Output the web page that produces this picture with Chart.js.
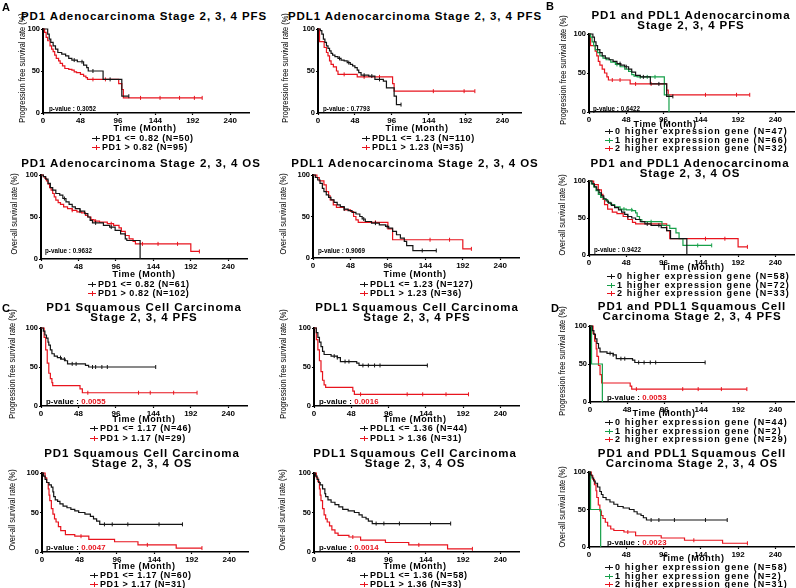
<!DOCTYPE html>
<html>
<head>
<meta charset="utf-8">
<script src="https://cdn.jsdelivr.net/npm/chart.js@4.4.1/dist/chart.umd.min.js"></script>
<style>
  body { margin: 0; background: #fff; }
  #fig { position: relative; width: 796px; height: 588px; overflow: hidden;
         font-family: "Liberation Sans", Arial, sans-serif; font-weight: bold; color: #000; }
  #fig canvas { position: absolute; }
  .txt { position: absolute; white-space: pre; transform: translate(-50%, -50%); text-align: center; }
  .ttl { font-size: 11.5px; letter-spacing: 0.9px; line-height: 10px; }
  .xt { font-size: 9px; letter-spacing: 0.55px; }
  .yt { position: absolute; white-space: nowrap; font-size: 9px; font-weight: normal;
        transform: translate(-50%, -50%) rotate(-90deg) scaleX(0.82); }
  .lbl { position: absolute; font-size: 11px; transform: translateY(-50%); }
  .leg { position: absolute; white-space: nowrap; font-size: 9px; transform: translateY(-50%); line-height: 10px; }
  .mk { display: inline-block; width: 8px; height: 1.2px; background: currentColor; position: relative;
        vertical-align: middle; margin-right: 2px; }
  .mk::after { content: ''; position: absolute; left: 3.5px; top: -2px; width: 1px; height: 5px; background: currentColor; }
  .pv { position: absolute; white-space: nowrap; transform: translateY(-50%); }
</style>
</head>
<body>
<div id="fig"></div>
<script>
// axis ticks
const xTicks = [0, 48, 96, 144, 192, 240];
const yTicks = [0, 50, 100];

// Kaplan-Meier curves: [month, survival %]
// Adenocarcinoma PFS, PD1
const adPfsPd1Low = [[0,100],[6,94],[8,88],[10,84],[13,80],[16,76],[19,72],[24,70],[29,68],[33,65],[37,63],[44,61],[52,57],[56,54],[58,50],[77,40],[101,20],[110,20]];
const adPfsPd1High = [[0,100],[2,96],[4,90],[6,86],[9,80],[11,76],[13,73],[15,69],[17,65],[20,62],[22,59],[25,56],[28,53],[33,52],[37,51],[40,49],[43,48],[48,46],[52,44],[55,42],[57,40],[97,35],[101,28],[103,18],[204,18]];
// Adenocarcinoma PFS, PDL1
const adPfsPdl1Low = [[0,100],[3,98],[5,94],[7,88],[9,84],[11,80],[13,77],[15,74],[17,71],[19,69],[22,67],[26,65],[30,63],[34,62],[38,60],[42,58],[45,56],[48,54],[51,51],[53,48],[56,45],[66,44],[74,40],[85,38],[89,30],[99,20],[102,10],[108,10]];
const adPfsPdl1High = [[0,100],[2,85],[8,78],[11,72],[13,68],[15,62],[17,58],[20,55],[24,50],[26,46],[51,43],[97,35],[99,26],[204,26]];
// Adenocarcinoma PFS, number of higher expression genes
const adPfsGene0 = [[0,100],[5,96],[7,90],[9,85],[11,80],[14,76],[17,72],[21,69],[26,67],[31,65],[36,62],[41,60],[46,58],[51,55],[55,51],[60,47],[66,45],[79,36],[100,20],[108,20]];
const adPfsGene1 = [[0,100],[2,96],[4,90],[6,85],[8,80],[11,76],[14,72],[18,69],[22,67],[28,64],[34,61],[40,58],[46,55],[51,52],[55,48],[58,46],[62,45],[97,22],[103,0]];
const adPfsGene2 = [[0,100],[2,85],[8,78],[10,72],[12,65],[14,60],[17,55],[20,50],[23,45],[25,41],[53,36],[100,28],[102,22],[207,22]];
// Adenocarcinoma OS, PD1
const adOsPd1Low = [[0,100],[3,98],[6,95],[9,90],[12,85],[15,82],[19,78],[24,76],[28,72],[32,68],[36,65],[40,62],[44,60],[50,57],[56,54],[60,50],[63,46],[66,43],[80,40],[88,38],[95,34],[102,30],[108,24],[110,22],[127,0]];
const adOsPd1High = [[0,100],[3,98],[5,96],[7,93],[9,89],[11,85],[13,82],[15,78],[17,74],[19,70],[22,67],[25,65],[29,62],[34,60],[40,58],[46,56],[52,55],[57,52],[60,50],[64,47],[68,45],[75,44],[85,42],[93,40],[100,37],[103,33],[108,28],[113,24],[118,21],[121,18],[192,9],[203,9]];
// Adenocarcinoma OS, PDL1
const adOsPdl1Low = [[0,100],[3,97],[6,94],[9,90],[12,84],[14,80],[17,76],[20,73],[23,70],[27,67],[31,64],[35,62],[40,59],[45,57],[50,55],[55,53],[60,50],[63,47],[67,44],[75,42],[85,40],[93,38],[97,36],[102,32],[107,28],[112,24],[117,20],[120,15],[128,9],[158,9]];
const adOsPdl1High = [[0,100],[5,97],[8,93],[14,88],[17,80],[20,75],[22,70],[26,64],[30,61],[40,58],[48,56],[52,50],[55,46],[58,43],[96,35],[102,22],[192,11],[203,11]];
// Adenocarcinoma OS, number of higher expression genes
const adOsGene0 = [[0,100],[4,96],[7,92],[10,88],[13,84],[16,80],[19,76],[22,73],[25,70],[29,67],[33,64],[38,61],[42,58],[46,55],[50,52],[55,50],[60,48],[66,45],[72,42],[80,40],[93,37],[100,33],[105,22],[126,0]];
const adOsGene1 = [[0,100],[3,96],[6,92],[9,87],[12,82],[15,78],[19,75],[24,71],[28,68],[33,65],[40,62],[48,61],[56,60],[60,57],[62,52],[65,48],[68,45],[88,45],[94,40],[104,36],[112,30],[116,22],[121,13],[158,13]];
const adOsGene2 = [[0,100],[6,95],[12,88],[16,82],[18,75],[20,68],[24,62],[30,58],[36,56],[44,52],[50,48],[56,44],[60,42],[100,33],[104,22],[192,11],[204,11]];
// Squamous PFS, PD1
const scPfsPd1Low = [[0,100],[3,96],[5,91],[7,87],[9,82],[10,78],[12,72],[14,67],[17,64],[21,62],[26,60],[31,58],[34,54],[57,52],[61,50],[147,50]];
const scPfsPd1High = [[0,100],[4,88],[6,72],[8,55],[10,42],[12,35],[14,30],[15,26],[50,22],[53,17],[200,17]];
// Squamous PFS, PDL1
const scPfsPdl1Low = [[0,100],[3,94],[5,88],[7,82],[9,76],[11,70],[13,66],[22,64],[30,62],[34,57],[55,55],[58,52],[146,52]];
const scPfsPdl1High = [[0,100],[3,85],[5,72],[7,58],[9,44],[11,33],[13,27],[15,24],[50,19],[52,15],[199,15]];
// Squamous PFS, number of higher expression genes
const scPfsGene0 = [[0,100],[3,94],[5,89],[7,83],[9,77],[11,71],[13,66],[22,64],[30,62],[34,57],[55,55],[58,52],[149,52]];
const scPfsGene1 = [[0,100],[2,50],[16,0]];
const scPfsGene2 = [[0,100],[4,90],[6,80],[8,70],[9,60],[11,48],[13,36],[15,25],[52,21],[54,17],[203,17]];
// Squamous OS, PD1
const scOsPd1Low = [[0,100],[2,96],[4,92],[6,88],[9,85],[12,82],[14,76],[15,70],[17,66],[20,64],[23,61],[27,58],[32,56],[37,54],[42,52],[47,50],[55,48],[62,45],[66,42],[70,39],[74,35],[180,35]];
const scOsPd1High = [[0,100],[4,94],[6,88],[8,80],[9,72],[10,65],[12,55],[14,48],[16,42],[18,38],[21,32],[24,27],[30,22],[42,20],[60,16],[93,13],[123,9],[172,5],[205,5]];
// Squamous OS, PDL1
const scOsPdl1Low = [[0,100],[2,96],[4,92],[6,88],[8,85],[11,80],[14,74],[15,70],[18,66],[22,63],[27,60],[32,57],[37,54],[44,52],[52,50],[58,47],[62,44],[67,42],[70,39],[75,36],[176,36]];
const scOsPdl1High = [[0,100],[3,94],[5,89],[7,80],[8,72],[9,65],[11,55],[13,47],[15,42],[17,38],[20,33],[23,28],[27,24],[31,21],[45,19],[60,15],[92,12],[122,9],[172,4],[204,4]];
// Squamous OS, number of higher expression genes
const scOsGene0 = [[0,100],[2,96],[4,92],[6,88],[8,85],[11,80],[14,74],[16,70],[18,66],[22,63],[27,60],[32,57],[37,54],[44,52],[52,50],[58,47],[62,44],[67,42],[70,39],[74,36],[178,36]];
const scOsGene1 = [[0,100],[2,50],[15,0]];
const scOsGene2 = [[0,100],[3,95],[5,90],[7,83],[9,75],[10,66],[12,56],[14,48],[16,42],[18,38],[21,33],[24,28],[28,24],[32,22],[45,20],[60,15],[93,12],[123,9],[172,5],[204,5]];

// censored observations (months)
const adPfsPd1LowCens = [40, 50, 64, 86, 110];
const adPfsPd1HighCens = [64, 80, 125, 150, 175, 194, 204];
const adPfsPdl1LowCens = [28, 40, 60, 70, 80, 108];
const adPfsPdl1HighCens = [34, 60, 80, 150, 190, 204];
const adPfsGene0Cens = [40, 48, 70, 90, 108];
const adPfsGene1Cens = [36, 66, 75, 85];
const adPfsGene2Cens = [30, 40, 60, 80, 150, 190, 207];
const adOsPd1LowCens = [30, 50, 70, 90];
const adOsPd1HighCens = [40, 70, 90, 130, 150, 175, 203];
const adOsPdl1LowCens = [40, 65, 80, 95, 140, 158];
const adOsPdl1HighCens = [80, 150, 175, 203];
const adOsGene0Cens = [50, 75, 90];
const adOsGene1Cens = [45, 55, 80, 140, 158];
const adOsGene2Cens = [80, 150, 175, 204];
const scPfsPd1LowCens = [25, 30, 40, 45, 66, 70, 78, 85, 147];
const scPfsPd1HighCens = [60, 125, 140, 170, 200];
const scPfsPdl1LowCens = [26, 30, 40, 45, 63, 70, 78, 85, 146];
const scPfsPdl1HighCens = [60, 120, 140, 170, 199];
const scPfsGene0Cens = [26, 30, 40, 45, 63, 70, 78, 85, 149];
const scPfsGene1Cens = [];
const scPfsGene2Cens = [60, 120, 140, 170, 203];
const scOsPd1LowCens = [80, 90, 110, 150, 180];
const scOsPd1HighCens = [50, 135, 205];
const scOsPdl1LowCens = [80, 90, 110, 150, 176];
const scOsPdl1HighCens = [50, 135, 204];
const scOsGene0Cens = [80, 90, 110, 150, 178];
const scOsGene1Cens = [];
const scOsGene2Cens = [50, 135, 204];

// titles, legends, p-values
const titles = [
  'PD1 Adenocarcinoma Stage 2, 3, 4 PFS',
  'PDL1 Adenocarcinoma Stage 2, 3, 4 PFS',
  'PD1 and PDL1 Adenocarcinoma\nStage 2, 3, 4 PFS',
  'PD1 Adenocarcinoma Stage 2, 3, 4 OS',
  'PDL1 Adenocarcinoma Stage 2, 3, 4 OS',
  'PD1 and PDL1 Adenocarcinoma\nStage 2, 3, 4 OS',
  'PD1 Squamous Cell Carcinoma\nStage 2, 3, 4 PFS',
  'PDL1 Squamous Cell Carcinoma\nStage 2, 3, 4 PFS',
  'PD1 and PDL1 Squamous Cell\nCarcinoma Stage 2, 3, 4 PFS',
  'PD1 Squamous Cell Carcinoma\nStage 2, 3, 4 OS',
  'PDL1 Squamous Cell Carcinoma\nStage 2, 3, 4 OS',
  'PD1 and PDL1 Squamous Cell\nCarcinoma Stage 2, 3, 4 OS'
];
const legendLabels = [
  ['PD1 <= 0.82 (N=50)', 'PD1 > 0.82 (N=95)'],
  ['PDL1 <= 1.23 (N=110)', 'PDL1 > 1.23 (N=35)'],
  ['0 higher expression gene (N=47)', '1 higher expression gene (N=66)', '2 higher expression gene (N=32)'],
  ['PD1 <= 0.82 (N=61)', 'PD1 > 0.82 (N=102)'],
  ['PDL1 <= 1.23 (N=127)', 'PDL1 > 1.23 (N=36)'],
  ['0 higher expression gene (N=58)', '1 higher expression gene (N=72)', '2 higher expression gene (N=33)'],
  ['PD1 <= 1.17 (N=46)', 'PD1 > 1.17 (N=29)'],
  ['PDL1 <= 1.36 (N=44)', 'PDL1 > 1.36 (N=31)'],
  ['0 higher expression gene (N=44)', '1 higher expression gene (N=2)', '2 higher expression gene (N=29)'],
  ['PD1 <= 1.17 (N=60)', 'PD1 > 1.17 (N=31)'],
  ['PDL1 <= 1.36 (N=58)', 'PDL1 > 1.36 (N=33)'],
  ['0 higher expression gene (N=58)', '1 higher expression gene (N=2)', '2 higher expression gene (N=31)']
];
const pValues = ['0.3052', '0.7793', '0.6422', '0.9632', '0.9069', '0.9422',
                 '0.0055', '0.0016', '0.0053', '0.0047', '0.0014', '0.0023'];
const curveSets = [
  [adPfsPd1Low, adPfsPd1High], [adPfsPdl1Low, adPfsPdl1High], [adPfsGene0, adPfsGene1, adPfsGene2],
  [adOsPd1Low, adOsPd1High], [adOsPdl1Low, adOsPdl1High], [adOsGene0, adOsGene1, adOsGene2],
  [scPfsPd1Low, scPfsPd1High], [scPfsPdl1Low, scPfsPdl1High], [scPfsGene0, scPfsGene1, scPfsGene2],
  [scOsPd1Low, scOsPd1High], [scOsPdl1Low, scOsPdl1High], [scOsGene0, scOsGene1, scOsGene2]
];
const censorSets = [
  [adPfsPd1LowCens, adPfsPd1HighCens], [adPfsPdl1LowCens, adPfsPdl1HighCens], [adPfsGene0Cens, adPfsGene1Cens, adPfsGene2Cens],
  [adOsPd1LowCens, adOsPd1HighCens], [adOsPdl1LowCens, adOsPdl1HighCens], [adOsGene0Cens, adOsGene1Cens, adOsGene2Cens],
  [scPfsPd1LowCens, scPfsPd1HighCens], [scPfsPdl1LowCens, scPfsPdl1HighCens], [scPfsGene0Cens, scPfsGene1Cens, scPfsGene2Cens],
  [scOsPd1LowCens, scOsPd1HighCens], [scOsPdl1LowCens, scOsPdl1HighCens], [scOsGene0Cens, scOsGene1Cens, scOsGene2Cens]
];

const BLACK = '#141414', RED = '#e8141e', GREEN = '#17a04a';
const X_MAX = 264;

// layout of each small plot (pixels)
const panels = [
  { x0: 43,  yTop: 29,  yBot: 113, pw: 206, ytx: 22,  tt: [144, 16],    xt: [145, 128], lx: 92,  ly: 137.5, ls: 9.5, pv: [49, 108],  pvs: 6.3, lsp: 0.6 },
  { x0: 318, yTop: 29,  yBot: 113, pw: 203, ytx: 285, tt: [415, 16],    xt: [417, 128], lx: 362, ly: 137.5, ls: 9.5, pv: [323, 108], pvs: 6.3, lsp: 0.6 },
  { x0: 589, yTop: 34,  yBot: 112, pw: 205, ytx: 563, tt: [691, 20],    xt: [665, 124], lx: 605, ly: 131,   ls: 8.5, pv: [593, 108], pvs: 6.3, lsp: 1.1 },
  { x0: 41,  yTop: 175, yBot: 259, pw: 206, ytx: 14,  tt: [141, 163],   xt: [144, 274], lx: 88,  ly: 284,   ls: 9,   pv: [45, 250],  pvs: 6.3, lsp: 0.6 },
  { x0: 313, yTop: 175, yBot: 258, pw: 206, ytx: 283, tt: [415, 163],   xt: [415, 274], lx: 360, ly: 284,   ls: 9,   pv: [318, 250], pvs: 6.3, lsp: 0.6 },
  { x0: 589, yTop: 181, yBot: 255, pw: 205, ytx: 562, tt: [690, 167.5], xt: [693, 267], lx: 607, ly: 276,   ls: 8.5, pv: [594, 249], pvs: 6.3, lsp: 1.1 },
  { x0: 41,  yTop: 328, yBot: 406, pw: 206, ytx: 12,  tt: [144, 311.5], xt: [144, 419], lx: 90,  ly: 428,   ls: 10,  pv: [46, 401],  pvs: 7.8, lsp: 0.6 },
  { x0: 314, yTop: 328, yBot: 406, pw: 205, ytx: 283, tt: [417, 311.5], xt: [415, 419], lx: 360, ly: 428,   ls: 10,  pv: [319, 401], pvs: 7.8, lsp: 0.6 },
  { x0: 590, yTop: 326, yBot: 402, pw: 204, ytx: 562, tt: [692, 310.5], xt: [664, 413], lx: 605, ly: 422,   ls: 8.5, pv: [607, 397], pvs: 7.8, lsp: 1.1 },
  { x0: 42,  yTop: 473, yBot: 552, pw: 206, ytx: 12,  tt: [142, 457.5], xt: [144, 566], lx: 90,  ly: 575,   ls: 9,   pv: [46, 547],  pvs: 7.8, lsp: 0.6 },
  { x0: 314, yTop: 473, yBot: 552, pw: 205, ytx: 282, tt: [415, 457.5], xt: [415, 566], lx: 360, ly: 575,   ls: 9,   pv: [319, 547], pvs: 7.8, lsp: 0.6 },
  { x0: 589, yTop: 472, yBot: 547, pw: 205, ytx: 562, tt: [692, 457.5], xt: [693, 558], lx: 605, ly: 567,   ls: 8.5, pv: [607, 542], pvs: 7.8, lsp: 1.1 }
];
const panelLetters = [['A', 2, 7], ['B', 546, 6], ['C', 2, 308], ['D', 551, 308]];

const fig = document.getElementById('fig');

function addText(cls, text, x, y) {
  const d = document.createElement('div');
  d.className = cls;
  d.textContent = text;
  d.style.left = x + 'px';
  d.style.top = y + 'px';
  fig.appendChild(d);
  return d;
}

// survival value of a step curve at time t
function stepAt(curve, t) {
  let s = curve[0][1];
  for (const [ct, cs] of curve) if (ct <= t) s = cs;
  return s;
}

function drawPanel(i) {
  const p = panels[i];
  const curves = curveSets[i];
  const colors = curves.length === 3 ? [BLACK, GREEN, RED] : [BLACK, RED];
  const isOS = titles[i].endsWith('OS');

  const padL = 30;
  const canvas = document.createElement('canvas');
  canvas.width = padL + p.pw + 4;
  canvas.height = (p.yBot - p.yTop) + 6 + 16;
  canvas.style.left = (p.x0 - padL) + 'px';
  canvas.style.top = (p.yTop - 6) + 'px';
  fig.appendChild(canvas);

  const datasets = [];
  curves.forEach((c, k) => {
    datasets.push({
      data: c.map(([t, s]) => ({ x: t, y: s })),
      borderColor: colors[k], borderWidth: 1.2, stepped: true,
      pointRadius: 0, fill: false, clip: false
    });
    datasets.push({
      data: censorSets[i][k].map(t => ({ x: t, y: stepAt(c, t) })),
      showLine: false, pointStyle: 'line', pointRotation: 90, pointRadius: 2,
      pointBorderColor: colors[k], pointBorderWidth: 1, borderColor: colors[k], clip: false
    });
  });

  new Chart(canvas, {
    type: 'line',
    data: { datasets },
    options: {
      responsive: false,
      animation: false,
      events: [],
      layout: { padding: { top: 6, right: 4, left: 0, bottom: 0 }, autoPadding: false },
      plugins: { legend: { display: false }, tooltip: { enabled: false } },
      scales: {
        x: {
          type: 'linear', min: 0, max: X_MAX,
          afterBuildTicks: s => { s.ticks = xTicks.map(v => ({ value: v })); },
          afterFit: s => { s.height = 16; },
          grid: { drawOnChartArea: false, tickLength: 2, color: '#000', tickWidth: 1.2 },
          border: { color: '#000', width: 1.5 },
          ticks: { color: '#000', padding: 1, maxRotation: 0, autoSkip: false,
                   font: { family: "'Liberation Sans', Arial, sans-serif", size: 8, weight: 'bold' } }
        },
        y: {
          min: 0, max: 100,
          afterBuildTicks: s => { s.ticks = yTicks.map(v => ({ value: v })); },
          afterFit: s => { s.width = padL; },
          grid: { drawOnChartArea: false, tickLength: 2, color: '#000', tickWidth: 1.2 },
          border: { color: '#000', width: 2 },
          ticks: { color: '#000', padding: 1,
                   font: { family: "'Liberation Sans', Arial, sans-serif", size: 7.5, weight: 'bold' } }
        }
      }
    }
  });

  addText('txt ttl', titles[i], p.tt[0], p.tt[1]);
  addText('txt xt', 'Time (Month)', p.xt[0], p.xt[1]);
  addText('yt', isOS ? 'Over-all survival rate (%)' : 'Progression free survival rate (%)',
          p.ytx, (p.yTop + p.yBot) / 2 - 3);

  // p-value, significant numbers shown in red
  const pv = document.createElement('div');
  pv.className = 'pv';
  pv.style.left = p.pv[0] + 'px';
  pv.style.top = p.pv[1] + 'px';
  pv.style.fontSize = p.pvs + 'px';
  pv.style.letterSpacing = (p.pvs > 7 ? 0.1 : 0) + 'px';
  pv.appendChild(document.createTextNode('p-value : '));
  const num = document.createElement('span');
  num.textContent = pValues[i];
  if (parseFloat(pValues[i]) < 0.05) num.style.color = RED;
  pv.appendChild(num);
  fig.appendChild(pv);

  legendLabels[i].forEach((lab, k) => {
    const d = document.createElement('div');
    d.className = 'leg';
    d.style.left = p.lx + 'px';
    d.style.top = (p.ly + k * p.ls) + 'px';
    d.style.letterSpacing = p.lsp + 'px';
    const mk = document.createElement('span');
    mk.className = 'mk';
    mk.style.color = colors[k];
    d.appendChild(mk);
    d.appendChild(document.createTextNode(lab));
    fig.appendChild(d);
  });
}

panels.forEach((p, i) => drawPanel(i));
panelLetters.forEach(([t, x, y]) => addText('lbl', t, x, y));
</script>
</body>
</html>
